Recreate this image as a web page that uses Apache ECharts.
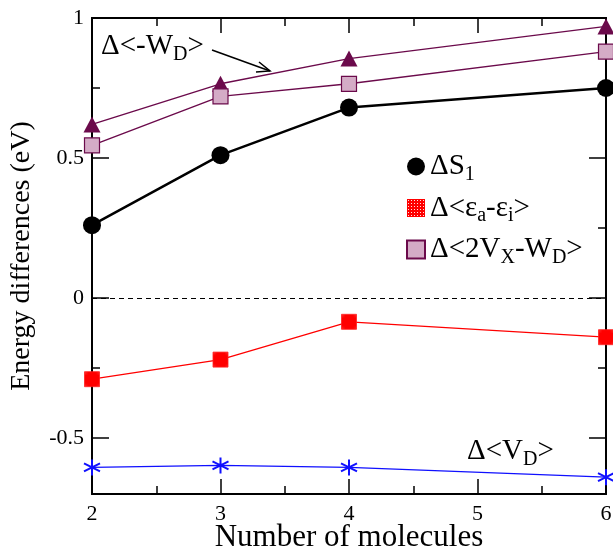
<!DOCTYPE html>
<html>
<head>
<meta charset="utf-8">
<script src="https://cdn.jsdelivr.net/npm/echarts@6/dist/echarts.min.js"></script>
<style>
  html, body { margin: 0; padding: 0; background: #fff; }
  #chart { width: 613px; height: 550px; }
</style>
</head>
<body>
<div id="chart"></div>
<script>
// data
const xValues = [2, 3, 4, 6];
const deltaS1 = [0.26, 0.51, 0.68, 0.75];
const deltaEps = [-0.29, -0.22, -0.085, -0.14];
const delta2VxWd = [0.545, 0.72, 0.765, 0.88];
const deltaNegWd = [0.62, 0.765, 0.855, 0.97];
const deltaVd = [-0.605, -0.598, -0.605, -0.64];
const yMajorTicks = [-0.5, 0, 0.5, 1];
const yMinorTicks = [-0.25, 0.25, 0.75];

const FONT = "'Liberation Serif', 'DejaVu Serif', serif";
const PURPLE = '#6b0a4b';

function pattern(size, bg, dot) {
  const c = document.createElement('canvas');
  c.width = size; c.height = size;
  const ctx = c.getContext('2d');
  ctx.fillStyle = bg; ctx.fillRect(0, 0, size, size);
  ctx.fillStyle = dot; ctx.fillRect(1, 1, 1, 1);
  return { image: c, repeat: 'repeat' };
}
const redFill = pattern(3, '#ff0000', '#ffe0e0');

const pts = (ys) => xValues.map((x, i) => [x, ys[i]]);
const starPath = 'path://M0,-10L0,10M-8.66,-5L8.66,5M-8.66,5L8.66,-5';

const chart = echarts.init(document.getElementById('chart'));

const baseX = {
  type: 'value', min: 2, max: 6, interval: 1,
  axisLine: { onZero: false, lineStyle: { color: '#000', width: 2 } },
  axisTick: { inside: true, length: 15, lineStyle: { color: '#000', width: 1.5 } },
  minorTick: { show: true, splitNumber: 2, length: 8, lineStyle: { color: '#000', width: 1.5 } },
  splitLine: { show: false },
};
const baseY = (pos, ticks, len, labels) => ({
  type: 'value', min: -0.7, max: 1, position: pos,
  axisLine: { show: true, onZero: false, lineStyle: { color: '#000', width: 2 } },
  axisTick: { inside: true, length: len, customValues: ticks, lineStyle: { color: '#000', width: 1.5 } },
  axisLabel: labels ? {
    customValues: yMajorTicks, color: '#000', fontFamily: FONT, fontSize: 22, margin: 8,
    formatter: (v) => String(v)
  } : { show: false },
  splitLine: { show: false },
});

const option = {
  animation: false,
  grid: { left: 92, right: 7, top: 18, bottom: 56, outerBoundsMode: 'none', containLabel: false },
  xAxis: [
    Object.assign({}, baseX, {
      position: 'bottom',
      name: 'Number of molecules', nameLocation: 'middle', nameGap: 28, nameMoveOverlap: false,
      nameTextStyle: { fontFamily: FONT, fontSize: 31, color: '#000' },
      axisLabel: { color: '#000', fontFamily: FONT, fontSize: 22, margin: 9 },
    }),
    Object.assign({}, baseX, { position: 'top', axisLabel: { show: false } }),
  ],
  yAxis: [
    Object.assign(baseY('left', yMajorTicks, 17, true), {
      name: 'Energy differences (eV)', nameLocation: 'middle', nameGap: 56, nameMoveOverlap: false,
      nameTextStyle: { fontFamily: FONT, fontSize: 28, color: '#000' },
    }),
    baseY('left', yMinorTicks, 8, false),
    baseY('right', yMajorTicks, 17, false),
    baseY('right', yMinorTicks, 8, false),
  ],
  legend: {
    left: 401, top: 147, orient: 'vertical', itemGap: 9,
    itemWidth: 18, itemHeight: 18,
    data: [
      { name: 'dS1', icon: 'circle' },
      { name: 'dEps', icon: 'rect', itemStyle: { borderWidth: 0 } },
      { name: 'd2VxWd', icon: 'rect' },
    ],
    textStyle: {
      color: '#000', fontFamily: FONT, fontSize: 29,
      rich: {
        m: { fontFamily: FONT, fontSize: 29, color: '#000' },
        s: { fontFamily: FONT, fontSize: 20, color: '#000', padding: [16, 0, 0, 0] },
      },
    },
    formatter: (name) => ({
      dS1: '{m|ΔS}{s|1}',
      dEps: '{m|Δ<ε}{s|a}{m|-ε}{s|i}{m|>}',
      d2VxWd: '{m|Δ<2V}{s|X}{m|-W}{s|D}{m|>}',
    })[name],
  },
  series: [
    {
      name: 'dNegWd', type: 'line', data: pts(deltaNegWd),
      symbol: 'triangle', symbolSize: [17, 16],
      itemStyle: { color: PURPLE },
      lineStyle: { color: PURPLE, width: 1.4 },
      z: 3,
    },
    {
      name: 'd2VxWd', type: 'line', data: pts(delta2VxWd),
      symbol: 'rect', symbolSize: 15,
      itemStyle: { color: '#d4abc6', borderColor: PURPLE, borderWidth: 1.2 },
      lineStyle: { color: PURPLE, width: 1.4 },
      z: 3,
    },
    {
      name: 'dS1', type: 'line', data: pts(deltaS1),
      symbol: 'circle', symbolSize: 18,
      itemStyle: { color: '#000' },
      lineStyle: { color: '#000', width: 2.5 },
      z: 3,
    },
    {
      name: 'dEps', type: 'line', data: pts(deltaEps),
      symbol: 'rect', symbolSize: 15,
      itemStyle: { color: redFill, borderColor: '#ff2020', borderWidth: 0.8 },
      lineStyle: { color: '#ff0000', width: 1.3 },
      z: 3,
      markLine: {
        silent: true, symbol: 'none', label: { show: false },
        lineStyle: { color: '#000', type: [5, 4], width: 1.2 },
        data: [{ yAxis: 0 }],
      },
    },
    {
      name: 'dVd', type: 'line', data: pts(deltaVd),
      symbol: starPath, symbolSize: 16,
      itemStyle: { color: 'none', borderColor: '#1010ff', borderWidth: 2 },
      lineStyle: { color: '#1010ff', width: 1.3 },
      z: 3,
    },
  ],
  graphic: [
    {
      type: 'text', left: 101, top: 32,
      style: {
        text: '{m|Δ<-W}{s|D}{m|>}', fill: '#000',
        rich: {
          m: { fontFamily: FONT, fontSize: 29, fill: '#000' },
          s: { fontFamily: FONT, fontSize: 20, fill: '#000', padding: [17, 0, 0, 0] },
        },
      },
    },
    {
      type: 'text', left: 467, top: 437,
      style: {
        text: '{m|Δ<V}{s|D}{m|>}', fill: '#000',
        rich: {
          m: { fontFamily: FONT, fontSize: 29, fill: '#000' },
          s: { fontFamily: FONT, fontSize: 20, fill: '#000', padding: [16, 0, 0, 0] },
        },
      },
    },
    {
      type: 'group',
      children: [
        { type: 'line', shape: { x1: 212, y1: 50, x2: 270, y2: 71 }, style: { stroke: '#000', lineWidth: 1.5 } },
        { type: 'polyline', shape: { points: [[259, 62], [270, 71], [256, 72]] }, style: { stroke: '#000', lineWidth: 1.5, fill: null } },
      ],
    },
  ],
};
chart.setOption(option);
</script>
</body>
</html>
